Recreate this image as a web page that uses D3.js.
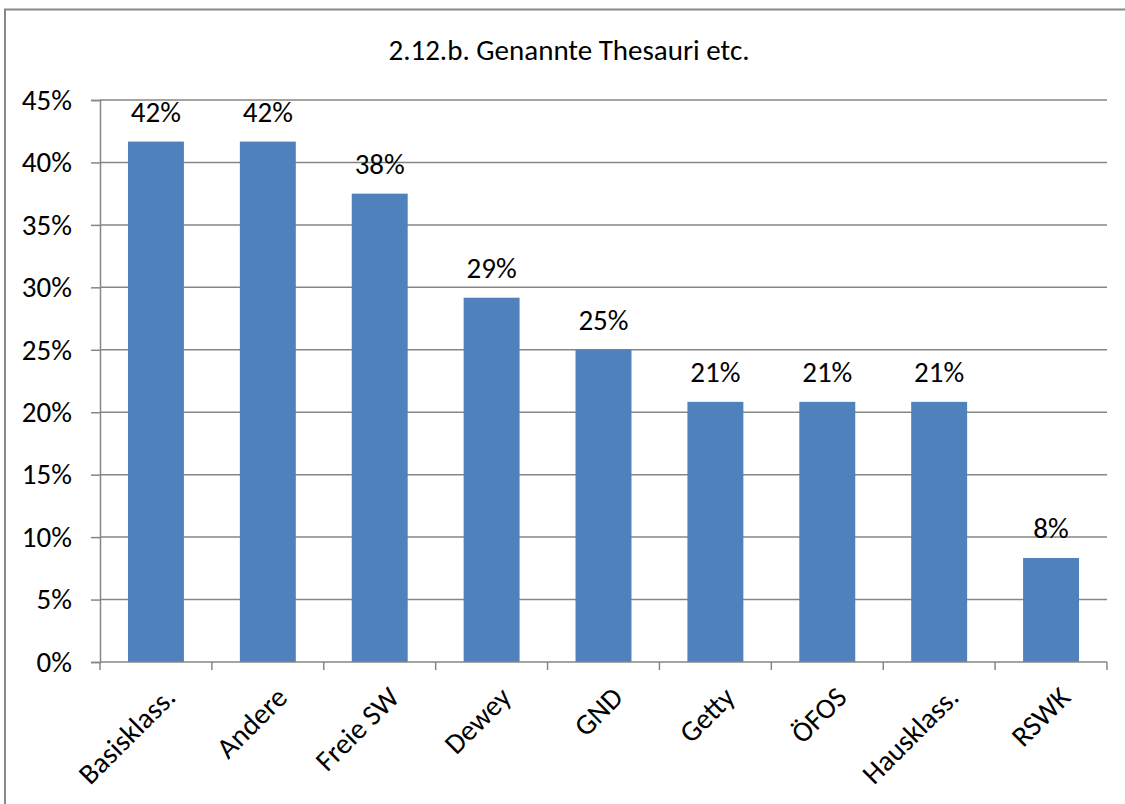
<!DOCTYPE html>
<html><head><meta charset="utf-8">
<script src="https://cdn.jsdelivr.net/npm/d3@7"></script>
<style>body{margin:0;background:#fff;} text{font-family:Carlito,Calibri,Lato,"Open Sans",sans-serif;fill:#000;}</style>
</head><body>
<svg id="c" width="1125" height="804"></svg>
<script>
const categories = ["Basisklass.","Andere","Freie SW","Dewey","GND","Getty","ÖFOS","Hausklass.","RSWK"];
const values = [0.4167,0.4167,0.375,0.2917,0.25,0.2083,0.2083,0.2083,0.0833];
const yTicks = [0,0.05,0.10,0.15,0.20,0.25,0.30,0.35,0.40,0.45];
const title = "2.12.b. Genannte Thesauri etc.";

const svg = d3.select("#c");
const L=100, R=1107, T=100, B=662;
const FS = 29;
svg.append("rect").attr("x",5).attr("y",9.5).attr("width",1130).attr("height",820)
  .attr("fill","none").attr("stroke","#888").attr("stroke-width",2);

const x = d3.scaleBand().domain(categories).range([L,R]).paddingInner(0.5).paddingOuter(0.25);
const y = d3.scaleLinear().domain([0,0.45]).range([B,T]);

svg.append("g").selectAll("line").data(yTicks.slice(1)).join("line")
  .attr("x1",L).attr("x2",R).attr("y1",d=>y(d)).attr("y2",d=>y(d))
  .attr("stroke","#868686").attr("stroke-width",1.5);

svg.append("g").selectAll("rect").data(values).join("rect")
  .attr("x",(d,i)=>x(categories[i])).attr("width",x.bandwidth())
  .attr("y",d=>y(d)).attr("height",d=>B-y(d)).attr("fill","#4f81bd");

const ya = svg.append("g").attr("transform",`translate(${L},0)`)
  .call(d3.axisLeft(y).tickValues(yTicks).tickFormat(d3.format(".0%")).tickSize(9).tickPadding(19));
ya.selectAll("path,line").attr("stroke","#868686").attr("stroke-width",1.5);
ya.selectAll("text").style("font-size",FS+"px").attr("fill","#000");

const step = x.step();
const xa = svg.append("g").attr("transform",`translate(0,${B})`);
xa.append("line").attr("x1",L).attr("x2",R).attr("stroke","#868686").attr("stroke-width",1.5);
const edges = d3.range(categories.length+1).map(i=>L+i*step);
xa.selectAll("line.t").data(edges).join("line").attr("class","t")
  .attr("x1",d=>d).attr("x2",d=>d).attr("y1",0).attr("y2",8).attr("stroke","#868686").attr("stroke-width",1.5);
xa.selectAll("text").data(categories).join("text")
  .attr("transform",d=>`translate(${x(d)+x.bandwidth()/2+14},${30}) rotate(-45)`)
  .attr("text-anchor","end").attr("dy","0.35em").style("font-size",FS+"px").text(d=>d);

svg.append("g").selectAll("text").data(values).join("text")
  .attr("x",(d,i)=>x(categories[i])+x.bandwidth()/2).attr("y",d=>y(d)-20)
  .attr("text-anchor","middle").style("font-size",FS+"px")
  .text(d=>d3.format(".0%")(d));

svg.append("text").attr("x",569).attr("y",60).attr("text-anchor","middle")
  .style("font-size","29px").text(title);
</script>
</body></html>
